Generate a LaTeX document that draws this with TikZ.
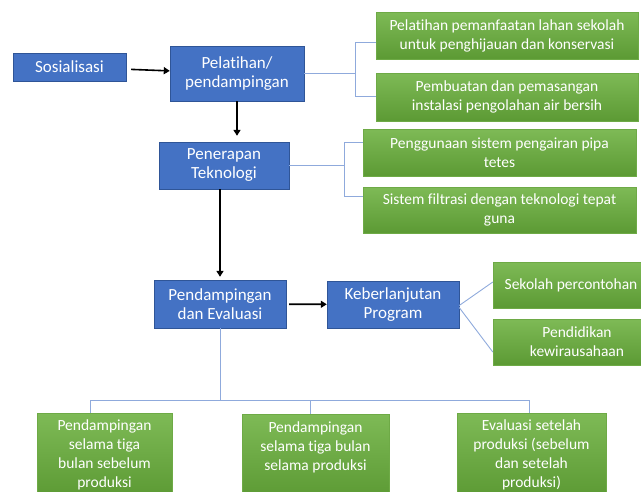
\documentclass[tikz,border=0pt]{standalone}
\usepackage{fontspec}
\setmainfont{Carlito}[Ligatures=NoCommon]
\usepackage{tikz}
\usetikzlibrary{arrows.meta, positioning, calc}
\definecolor{stepblue}{RGB}{68, 114, 196}
\definecolor{stepblueline}{RGB}{47, 85, 151}
\definecolor{leaftop}{RGB}{126, 186, 86}
\definecolor{leafbottom}{RGB}{92, 154, 52}
\definecolor{leafline}{RGB}{110, 170, 70}
\definecolor{linkblue}{RGB}{143, 170, 220}

\begin{document}
\begin{tikzpicture}[
    x=1pt, y=-1pt,
    mainbox/.style={rectangle, draw=stepblueline, fill=stepblue, text=white, inner sep=0pt,
                    align=center, font=\fontsize{17}{19}\selectfont},
    leafbox/.style={rectangle, draw=leafline, top color=leaftop, bottom color=leafbottom,
                    text=white, inner sep=0pt, align=center, font=\fontsize{15.5}{19}\selectfont},
    arrow/.style={-{Triangle[length=6pt, width=7pt]}, line width=1.6pt, color=black},
    link/.style={thin, color=linkblue, line width=0.9pt}
]
\useasboundingbox (0,0) rectangle (641,491);
\clip (0,0) rectangle (641,491);

% Main steps
\node[mainbox, minimum width=113, minimum height=28] (sos) at (69.5,67) {Sosialisasi};
\node[mainbox, minimum width=134, minimum height=55] (pel) at (237,73.5) {Pelatihan/\\pendampingan};
\node[mainbox, minimum width=130, minimum height=47] (pen) at (224,165.5) {Penerapan\\Teknologi};
\node[mainbox, minimum width=132, minimum height=48] (eva) at (220,304) {Pendampingan\\dan Evaluasi};
\node[mainbox, minimum width=132, minimum height=47] (keb) at (393,304.5) {Keberlanjutan\\Program};

% Activities, upper right
\node[leafbox, minimum width=262, minimum height=47] (g1) at (507,35.5)
    {Pelatihan pemanfaatan lahan sekolah\\untuk penghijauan dan konservasi};
\node[leafbox, minimum width=262, minimum height=48] (g2) at (507,97)
    {Pembuatan dan pemasangan\\instalasi pengolahan air bersih};
\node[leafbox, minimum width=273, minimum height=47] (g3) at (499.5,152.5)
    {Penggunaan sistem pengairan pipa\\tetes};
\node[leafbox, minimum width=273, minimum height=46] (g4) at (499.5,210)
    {Sistem filtrasi dengan teknologi tepat\\guna};

% Sustainability
\node[leafbox, minimum width=156, minimum height=46] (g5) at (571,285) {Sekolah percontohan};
\node[leafbox, minimum width=168, minimum height=46] (g6) at (577,342) {Pendidikan\\kewirausahaan};

% Monitoring, bottom row
\node[leafbox, minimum width=135, minimum height=84] (b1) at (104.5,455)
    {Pendampingan\\selama tiga\\bulan sebelum\\produksi};
\node[leafbox, minimum width=147, minimum height=84] (b2) at (315.5,456)
    {Pendampingan\\selama tiga bulan\\selama produksi\\~};
\node[leafbox, minimum width=149, minimum height=84] (b3) at (531.5,455)
    {Evaluasi setelah\\produksi (sebelum\\dan setelah\\produksi)};

% Main arrows
\draw[arrow, shorten <=5pt] (sos) -- (pel);
\draw[arrow, shorten >=6pt] (pel) -- (pen.north -| pel.south);
\draw[arrow, shorten >=3pt] (pen.south -| eva.north) -- (eva);
\draw[arrow, shorten <=3pt] (eva) -- (keb);

% Brackets
\draw[link] (pel.east) -- ++(51,0) coordinate (k1);
\draw[link] ([yshift=-7pt]g1.west) -| (k1) |- ([yshift=1pt]g2.west);
\draw[link] (pen.east) -- ++(55,0) coordinate (k2);
\draw[link] ([yshift=10.5pt]g3.west) -| (k2) |- ([yshift=14pt]g4.west);

% Fan lines
\draw[link] ([yshift=-1pt]keb.east) -- ([yshift=3pt]g5.west);
\draw[link] ([yshift=-3pt]keb.east) -- ([yshift=-10pt]g6.west);

% Tree below
\draw[link] (eva.south) -- ++(0,72) coordinate (bus);
\draw[link] ([xshift=-14.5pt]b1.north) |- (bus) -| ([xshift=-2.5pt]b3.north);
\draw[link] ([xshift=-5.5pt]b2.north) -- ++(0,-14);

\end{tikzpicture}
\end{document}
